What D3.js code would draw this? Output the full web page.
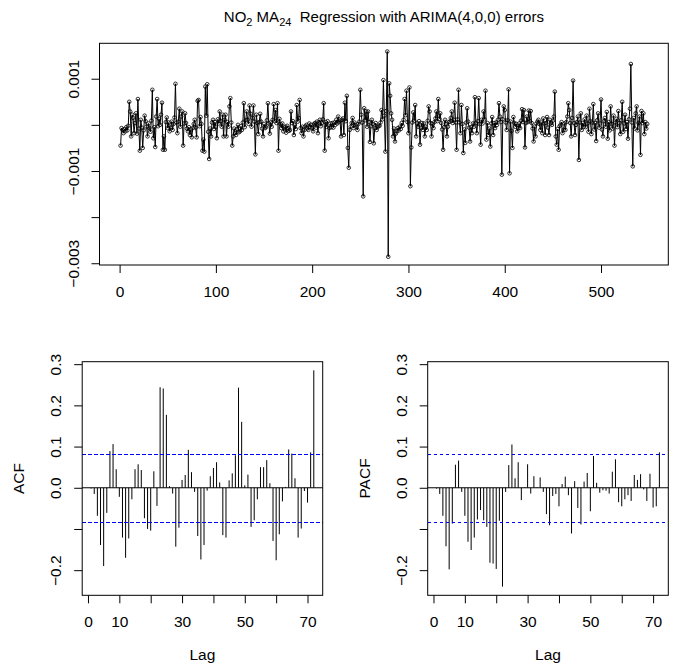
<!DOCTYPE html>
<html><head><meta charset="utf-8">
<script src="https://cdn.jsdelivr.net/npm/d3@7"></script>
<style>
body{margin:0;background:#fff}
svg{display:block}
text{font-family:"Liberation Sans",Arial,Helvetica,sans-serif;fill:#000}
</style>
</head><body>
<svg id="chart" width="679" height="670"></svg>
<script>
// residuals, in units of 1e-4
const residualsE4 = [
-4.5,-0.7,-1.1,-1.8,-0.9,-1.4,-0.5,-1.2,-0.2,5.0,
2.9,-2.5,2.2,1.5,-1.8,0.4,2.5,-1.9,5.6,-0.8,
-5.6,1.1,-0.6,-5.0,-1.2,2.0,0.8,-0.4,-2.5,0.3,
-0.7,-1.5,0.9,7.6,-2.9,-0.5,-4.8,1.8,5.6,-0.3,
1.3,0,2.2,4.8,-5.4,-2.5,-5.4,0.6,1.6,-0.7,
0.5,-1.4,-0.6,0.7,-1.1,0.2,1.6,8.9,0.5,-1.8,
0.7,3.5,-0.4,1.8,2.9,-4.5,0.3,2.5,0.4,-0.8,
-1.4,-0.5,-2.2,-1.0,-2.7,-0.7,0.2,1.1,-0.6,-2.7,
5.2,5.4,-0.3,1.7,0.2,-5.6,-3.2,-5.8,8.3,2.0,
8.8,-1.5,-7.4,-0.8,-2.5,0.5,1.1,-0.9,0.6,-0.4,
-2.9,1.2,0.3,2.9,0.8,-0.4,2.2,-2.5,1.1,2.2,
-2.5,0.6,-0.4,4.0,5.8,0.5,-4.5,-2.5,-0.8,-1.8,
-2.2,-0.9,0,-1.6,-1.4,-0.3,-1.1,0.5,4.7,-0.5,
1.0,2.9,1.1,0.2,4.2,2.4,-0.4,1.5,4.2,0.7,
-6.4,2.2,0.4,-2.0,0.6,2.4,0.7,-0.8,-2.5,0.2,
-0.7,-0.5,1.0,4.7,0.3,-1.9,0.5,-0.4,1.1,4.5,
0.8,3.2,0.4,4.7,-5.6,1.3,0.2,-0.7,0.3,-1.4,
-0.6,-0.4,-1.7,-0.2,-0.7,-1.3,-1.1,2.9,0.4,0.8,
-2.2,0,-0.9,4.3,0.7,1.5,5.4,-0.7,-1.8,-0.4,
-2.5,-1.1,-0.3,0,-0.8,-1.1,0.3,-0.5,0,-0.7,
-1.4,0.2,0.4,-0.6,0.7,-1.8,0.5,1.1,-0.3,0.4,
1.2,4.7,-5.6,0.6,-0.4,0.8,-2.9,-0.7,0.3,-0.5,
0.4,-0.6,0.5,0,1.1,0.3,1.8,0.6,0.9,-2.5,
1.1,1.4,-2.2,4.8,0.8,6.3,-5.0,-9.3,-1.1,-0.4,
0.4,1.5,-0.7,0.5,0,-0.5,-1.1,0.2,0.7,7.6,
2.2,0.5,-15.5,3.6,1.0,2.9,-0.4,2.9,0.6,-3.7,
-0.3,1.1,0.2,-4.0,-0.7,0.4,-1.1,-0.5,-0.2,-0.2,
0.5,3.2,1.2,9.7,2.0,-5.8,3.0,15.9,-28.6,9.0,
6.3,2.5,1.1,-2.5,-0.8,-3.6,-1.9,-1.4,-0.7,-1.2,
-0.4,-0.9,0.4,-0.2,1.1,5.6,2.1,7.4,0.6,-1.8,
8.1,-13.3,-4.9,0.5,2.7,0.9,4.3,-2.5,0.3,-0.4,
0.8,-4.3,-0.6,0.4,-1.1,0.3,-2.5,-0.4,-1.1,0.9,
4.0,2.9,0.4,-2.5,0.2,-0.7,0.6,1.4,2.9,0.8,
5.6,1.3,2.5,0.4,-1.0,-5.4,-0.5,1.1,0.2,-2.5,
-0.4,0.6,0.7,1.5,2.9,0.4,1.1,4.8,0.5,-5.4,
1.2,7.6,0.5,-1.8,4.3,0.2,-6.1,-1.0,-3.9,0.5,
3.6,0.7,-0.6,-3.6,-0.5,-1.8,0.3,-0.4,6.0,0.4,
-1.8,0.8,5.8,0.2,-4.3,1.1,0.3,2.9,1.2,7.4,
-3.2,0.4,-2.2,-0.8,-4.7,0.3,1.7,-2.2,0.4,-0.7,
0.5,0,1.1,4.7,1.8,0.6,-10.8,1.2,4.0,3.2,
0.5,-1.1,1.0,7.7,-10.5,0.7,-1.3,-5.0,1.7,0.4,
-0.4,0.2,-1.4,-0.7,0.3,-0.7,0.9,3.4,0.6,3.2,
-4.9,0.4,1.8,0.6,3.1,0.8,3.0,0.4,-0.8,-3.6,
-0.4,-2.5,0.3,0.7,1.1,0.2,-1.1,0.5,-1.8,1.4,
0.3,-2.2,0.4,1.7,-0.6,-2.2,1.1,0.3,0,0.9,
1.8,7.2,-2.5,-4.3,-0.9,-5.4,-0.3,0,0.6,-1.8,
-1.1,0.3,-1.1,0.6,1.8,4.7,3.2,0.4,-2.5,1.5,
9.6,0.4,-2.2,0,0.6,1.8,-7.6,0.5,2.5,-1.1,
0.4,-0.4,1.2,-0.5,2.0,0.3,-1.5,3.5,0.8,-2.0,
0.5,4.5,-1.0,0.4,-3.5,1.0,2.5,-0.6,0.3,5.5,
-1.0,-2.5,0.8,1.5,-0.4,2.8,-3.0,0.6,-1.2,4.0,
0.2,-0.8,2.0,-4.5,0.5,1.3,-0.5,3.0,0.4,-2.0,
1.0,5.0,-1.5,0.3,2.2,-0.9,0.6,-3.0,1.2,3.5,
13.2,0.5,-9.0,1.5,-0.8,2.5,4.0,-1.2,0.4,1.8,
-6.5,3.0,0.4,2.5,-2.0,0.6,-0.8,0.2
];
const acfValues = [
-0.002,-0.015,-0.068,-0.139,-0.190,-0.061,0.089,0.106,0.045,-0.022,
-0.121,-0.170,-0.123,-0.028,0.045,0.057,0.043,-0.074,-0.100,-0.104,
0.040,-0.044,0.244,0.241,0.177,0.004,-0.014,-0.143,-0.097,0.019,
0.031,0.092,0.038,-0.010,-0.117,-0.174,-0.139,-0.007,0.028,0.048,
0.062,0.013,-0.115,-0.121,0.018,0.035,0.079,0.243,0.160,0.006,
0.032,-0.095,-0.079,-0.028,0.050,0.050,0.067,0.011,-0.129,-0.176,
-0.113,-0.033,0.002,0.093,0.083,0.023,-0.121,-0.099,-0.008,-0.036,
0.086,0.285
];
const pacfValues = [
-0.002,-0.015,-0.068,-0.142,-0.198,-0.087,0.056,0.066,-0.010,-0.068,
-0.131,-0.151,-0.121,-0.077,-0.054,-0.079,-0.095,-0.182,-0.184,-0.197,
-0.080,-0.240,-0.010,0.055,0.105,0.023,0.062,-0.030,0.001,0.057,
-0.014,0.028,0.001,0.025,-0.010,-0.064,-0.091,-0.020,-0.015,-0.045,
0.009,0.027,-0.018,-0.111,0.016,-0.049,-0.089,0.015,0.036,-0.057,
0.077,0.012,-0.012,-0.006,-0.007,-0.014,0.039,0.069,-0.035,-0.045,
-0.028,-0.018,-0.032,0.031,0.019,0.033,-0.004,-0.032,0.034,-0.048,
-0.045,0.086
];
const ciBound = 0.082;
const timeTicks = [0,100,200,300,400,500];
const residTicks = [0.001,0,-0.001,-0.002,-0.003];
const residTickLabels = ["0.001","","\u22120.001","","\u22120.003"];
const lagTicks = [0,10,20,30,40,50,60,70];
const lagTickLabels = ["0","10","","30","","50","","70"];
const corTicks = [-0.2,-0.1,0,0.1,0.2,0.3];
const corTickLabels = ["\u22120.2","","0.0","0.1","0.2","0.3"];

const FS = 15.5;
const svg = d3.select("#chart");
const series = residualsE4.map((v,i)=>({t:i+1, v:v*1e-4}));
const n = series.length;
const pad = (lo,hi)=>{const r=hi-lo; return [lo-0.04*r, hi+0.04*r];};

// ---------- top panel ----------
const T = {l:99.5, r:668.3, t:43.3, b:265};
const x = d3.scaleLinear().domain(pad(1,n)).range([T.l,T.r]);
const y = d3.scaleLinear().domain(pad(d3.min(series,d=>d.v), d3.max(series,d=>d.v))).range([T.b,T.t]);

const gTop = svg.append("g");
gTop.append("path").datum(series)
  .attr("d", d3.line().x(d=>x(d.t)).y(d=>y(d.v)))
  .attr("fill","none").attr("stroke","#000").attr("stroke-width",1);
gTop.selectAll("circle").data(series).join("circle")
  .attr("cx",d=>x(d.t)).attr("cy",d=>y(d.v)).attr("r",1.8)
  .attr("fill","none").attr("stroke","#000").attr("stroke-width",0.8);

function box(b){
  svg.append("rect").attr("x",b.l).attr("y",b.t).attr("width",b.r-b.l).attr("height",b.b-b.t)
    .attr("fill","none").attr("stroke","#000").attr("stroke-width",1);
}
box(T);

function styleBottom(g, labels){
  g.select(".domain").remove();
  g.selectAll(".tick line").attr("stroke","#000");
  g.selectAll(".tick text").text((d,i)=>labels? labels[i] : d)
    .attr("y",26.5).attr("dy","0.36em").style("font-size",FS+"px");
}
function styleLeft(g, labels){
  g.select(".domain").remove();
  g.selectAll(".tick line").attr("stroke","#000");
  g.selectAll(".tick text").text((d,i)=>labels[i])
    .attr("x",0).attr("dy",null).attr("text-anchor","middle")
    .attr("transform","translate(-21,0) rotate(-90)").style("font-size",FS+"px");
}

const gx = svg.append("g").attr("transform",`translate(0,${T.b})`)
  .call(d3.axisBottom(x).tickValues(timeTicks).tickSize(8).tickSizeOuter(0));
styleBottom(gx, null);
const gy = svg.append("g").attr("transform",`translate(${T.l},0)`)
  .call(d3.axisLeft(y).tickValues(residTicks).tickSize(8).tickSizeOuter(0));
styleLeft(gy, residTickLabels);

// title
const title = svg.append("text").attr("x",(T.l+T.r)/2).attr("y",22.3)
  .attr("text-anchor","middle").style("font-size","15px").style("white-space","pre");
title.append("tspan").text("NO");
title.append("tspan").text("2").attr("dy",4).style("font-size","11px");
title.append("tspan").text(" MA").attr("dy",-4);
title.append("tspan").text("24").attr("dy",4).style("font-size","11px");
title.append("tspan").text("  Regression with ARIMA(4,0,0) errors").attr("dy",-4);

// ---------- correlogram panels ----------
const allCor = acfValues.concat(pacfValues, [ciBound, -ciBound]);
const yC = d3.scaleLinear().domain(pad(d3.min(allCor), d3.max(allCor)));
const lags = acfValues.map((_,i)=>i+1);

function corPanel(b, values, ylab){
  const xs = d3.scaleLinear().domain(pad(1, values.length)).range([b.l,b.r]);
  const ys = yC.copy().range([b.b,b.t]);
  const g = svg.append("g");
  g.selectAll("line.bar").data(values).join("line").attr("class","bar")
    .attr("x1",(d,i)=>xs(lags[i])).attr("x2",(d,i)=>xs(lags[i]))
    .attr("y1",ys(0)).attr("y2",d=>ys(d))
    .attr("stroke","#000").attr("stroke-width",1);
  g.append("line").attr("x1",b.l).attr("x2",b.r).attr("y1",ys(0)).attr("y2",ys(0))
    .attr("stroke","#000").attr("stroke-width",1);
  [ciBound,-ciBound].forEach(c=>{
    const yy = Math.round(ys(c)) + 0.5;
    g.append("line").attr("x1",b.l).attr("x2",b.r).attr("y1",yy).attr("y2",yy)
      .attr("stroke","#0000ff").attr("stroke-width",1).attr("stroke-dasharray","3.5,2.5")
      .attr("shape-rendering","crispEdges");
  });
  box(b);
  const ax = svg.append("g").attr("transform",`translate(0,${b.b})`)
    .call(d3.axisBottom(xs).tickValues(lagTicks).tickSize(8).tickSizeOuter(0));
  styleBottom(ax, lagTickLabels);
  const ay = svg.append("g").attr("transform",`translate(${b.l},0)`)
    .call(d3.axisLeft(ys).tickValues(corTicks).tickSize(8).tickSizeOuter(0));
  styleLeft(ay, corTickLabels);
  svg.append("text").attr("x",(b.l+b.r)/2).attr("y",b.b+65)
    .attr("text-anchor","middle").style("font-size",FS+"px").text("Lag");
  svg.append("text").attr("transform",`translate(${b.l-58},${(b.t+b.b)/2}) rotate(-90)`)
    .attr("text-anchor","middle").style("font-size",FS+"px").text(ylab);
}
corPanel({l:82.2, r:322.7, t:361.7, b:595.3}, acfValues, "ACF");
corPanel({l:427.7, r:668.3, t:361.7, b:595.3}, pacfValues, "PACF");
</script>
</body></html>
